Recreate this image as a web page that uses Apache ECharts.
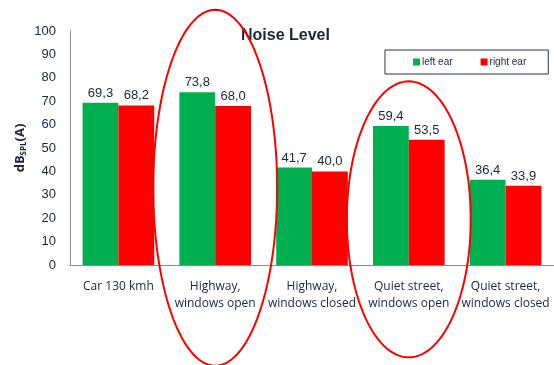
<!DOCTYPE html>
<html><head><meta charset="utf-8">
<script src="https://cdn.jsdelivr.net/npm/echarts@6/dist/echarts.min.js"></script>
<style>html,body{margin:0;padding:0;background:#fff}#c{width:554px;height:365px}</style>
</head><body><div id="c"></div>
<script>
const categories = ['Car 130 kmh', 'Highway,\nwindows open', 'Highway,\nwindows closed', 'Quiet street,\nwindows open', 'Quiet street,\nwindows closed'];
const leftEar = [69.3, 73.8, 41.7, 59.4, 36.4];
const rightEar = [68.2, 68.0, 40.0, 53.5, 33.9];
const yTicks = [0, 10, 20, 30, 40, 50, 60, 70, 80, 90, 100];
// highlighted categories (index, centre value, radii in px)
const highlights = [
  {cat: 1, yVal: 33.0, rx: 62, ry: 178},
  {cat: 3, yVal: 19.5, rx: 62, ry: 138}
];

const fmt = v => v.toFixed(1).replace('.', ',');
const navy = '#1b2638';
const chart = echarts.init(document.getElementById('c'));
const labelCfg = {show: true, position: 'top', distance: 3, color: navy, fontSize: 13, fontFamily: 'Liberation Sans, Arial', formatter: p => fmt(p.value)};
chart.setOption({
  animation: false,
  title: {text: 'Noise Level', left: 236, top: 23, textStyle: {fontSize: 16, fontWeight: 'bold', color: navy, fontFamily: 'Liberation Sans, Arial'}},
  legend: {
    left: 385, top: 50, itemWidth: 7, itemHeight: 7, itemGap: 28,
    padding: [7, 22, 7, 28],
    borderColor: '#2a3242', borderWidth: 1, icon: 'rect',
    textStyle: {fontSize: 10, color: navy, fontFamily: 'Liberation Sans, Arial', padding: [0, 0, 0, -3]},
    data: ['left ear', 'right ear']
  },
  grid: {left: 70, right: -2, top: 31, bottom: 100, containLabel: false},
  xAxis: {
    type: 'category', data: categories,
    axisLine: {lineStyle: {color: '#8c8c8c', width: 1}},
    axisTick: {show: false},
    axisLabel: {color: navy, fontSize: 12, fontFamily: 'Open Sans, DejaVu Sans', margin: 13, lineHeight: 17, interval: 0}
  },
  yAxis: {
    type: 'value', min: 0, max: 100, interval: 10,
    name: '{b|dB}{s|SPL}{b|(A)}', nameLocation: 'middle', nameGap: 42, nameRotate: 90, nameMoveOverlap: false,
    nameTextStyle: {rich: {b: {fontSize: 13, fontWeight: 'bold', color: navy, fontFamily: 'Open Sans, DejaVu Sans'}, s: {fontSize: 8, fontWeight: 'bold', color: navy, verticalAlign: 'bottom', padding: [8, 0, 0, 0], fontFamily: 'Open Sans, DejaVu Sans'}}},
    axisLine: {show: true, lineStyle: {color: '#8c8c8c', width: 1}},
    axisTick: {show: false},
    splitLine: {show: false},
    axisLabel: {color: navy, fontSize: 13, fontFamily: 'Liberation Sans, Arial', margin: 14, formatter: v => yTicks.includes(v) ? String(v) : ''}
  },
  series: [
    {name: 'left ear', type: 'bar', data: leftEar, barGap: '0%', barCategoryGap: '26%', itemStyle: {color: '#00b050'}, label: labelCfg},
    {name: 'right ear', type: 'bar', data: rightEar, itemStyle: {color: '#ff0000'}, label: labelCfg}
  ]
});
const graphics = highlights.map(h => {
  const c = chart.convertToPixel({gridIndex: 0}, [h.cat, h.yVal]);
  const pts = [];
  for (let i = 0; i <= 120; i++) {
    const a = i / 120 * Math.PI * 2;
    pts.push([c[0] + h.rx * Math.cos(a), c[1] + h.ry * Math.sin(a)]);
  }
  return {type: 'polyline', shape: {points: pts}, style: {stroke: '#ff0000', lineWidth: 2, fill: null}, z: 100};
});
chart.setOption({graphic: graphics});
</script></body></html>
